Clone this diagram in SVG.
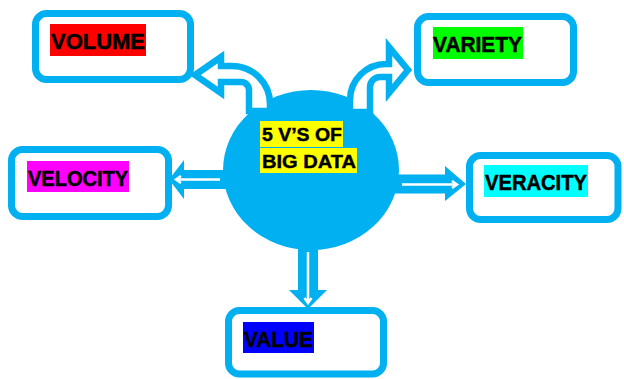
<svg xmlns="http://www.w3.org/2000/svg" width="624" height="379" viewBox="0 0 624 379">
<style>
.box{fill:#fff;stroke:#00B0F0;stroke-width:7}
.lbl{font-family:"Liberation Sans",Arial,sans-serif;font-weight:bold;font-size:22.5px;fill:#000;stroke:#000;stroke-width:0.5}
.ctr{font-family:"Liberation Sans",Arial,sans-serif;font-weight:bold;font-size:17.5px;fill:#000;stroke:#000;stroke-width:0.4}
.blk{fill:#00B0F0}
.bent{fill:#fff;stroke:#00B0F0;stroke-width:6.5;stroke-linejoin:miter}
.wl{fill:none;stroke:#fff;stroke-width:2.5}
</style>
<rect width="624" height="379" fill="#fff"/>
<g id="center">
<ellipse cx="311" cy="170" rx="88" ry="80" fill="#00B0F0"/>
</g>
<g id="connectors">
<path class="bent" d="M195,75 L221,57 L221,66 L232,66 A38,38 0 0 1 270,104 L270,111 L249,111 L249,90 A8,8 0 0 0 241,82 L221,82 L221,93 Z"/>
<path class="bent" d="M408,70 L389,93 L389,77 L380,77 A10,10 0 0 0 370,87 L370,112 L350,112 L350,100 A36,36 0 0 1 386,64 L389,64 L389,47 Z"/>
<path class="blk" d="M169,179.5 L184,160 L184,170 L226,170 L226,189 L184,189 L184,199 Z"/>
<path class="wl" d="M220,179.5 L176,179.5 M181,176 L176,179.5 L181,183"/>
<path class="blk" d="M466,184 L445,166 L445,174.5 L392,174.5 L392,193.5 L445,193.5 L445,201 Z"/>
<path class="wl" d="M402,184.5 L457,184.5 M452,181 L457,184.5 L452,188"/>
<path class="blk" d="M308,309 L289,290 L298,290 L298,245 L318,245 L318,290 L327,290 Z"/>
<path class="wl" d="M308,252 L308,303 M304.5,298 L308,303 L311.5,298"/>
</g>
<g id="center-label">
<rect x="260" y="121" width="83" height="26" fill="#FFFF00"/>
<rect x="260" y="148" width="97" height="25" fill="#FFFF00"/>
<text class="ctr" x="262" y="141" textLength="80" lengthAdjust="spacingAndGlyphs">5 V’S OF</text>
<text class="ctr" x="262" y="168" textLength="94" lengthAdjust="spacingAndGlyphs">BIG DATA</text>
</g>
<g id="volume">
<rect class="box" x="35.5" y="13.5" width="155" height="66" rx="11"/>
<rect x="50" y="24" width="96" height="32" fill="#FF0000"/>
<text class="lbl" x="51" y="49" textLength="94" lengthAdjust="spacingAndGlyphs">VOLUME</text>
</g>
<g id="variety">
<rect class="box" x="417.5" y="16.5" width="156" height="66" rx="11"/>
<rect x="433" y="27" width="90" height="32" fill="#00FF00"/>
<text class="lbl" x="433" y="52" textLength="89" lengthAdjust="spacingAndGlyphs">VARIETY</text>
</g>
<g id="velocity">
<rect class="box" x="11.5" y="149.5" width="157" height="67" rx="11"/>
<rect x="27" y="161" width="102" height="31" fill="#FF00FF"/>
<text class="lbl" x="28" y="186" textLength="100" lengthAdjust="spacingAndGlyphs">VELOCITY</text>
</g>
<g id="veracity">
<rect class="box" x="469.5" y="155.5" width="148.5" height="64" rx="11"/>
<rect x="484" y="165" width="104" height="32" fill="#00FFFF"/>
<text class="lbl" x="485" y="190" textLength="102" lengthAdjust="spacingAndGlyphs">VERACITY</text>
</g>
<g id="value">
<rect class="box" x="228.5" y="310.5" width="155" height="63.5" rx="11"/>
<rect x="243" y="322" width="71" height="31" fill="#0000FF"/>
<text class="lbl" x="244" y="347" textLength="69" lengthAdjust="spacingAndGlyphs">VALUE</text>
</g>
</svg>
